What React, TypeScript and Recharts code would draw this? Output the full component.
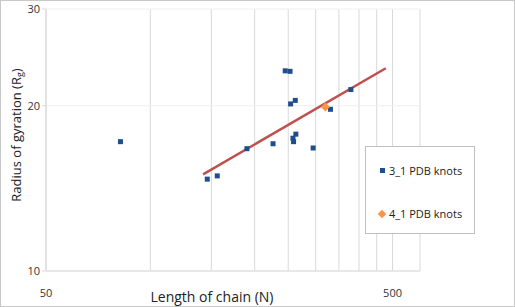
import React from 'react';
import { ScatterChart, Scatter, XAxis, YAxis, CartesianGrid, Label } from 'recharts';

// chain length (N) vs radius of gyration (Rg)
const knots31N = [82, 146, 156, 190, 226, 245, 253, 254, 262, 263, 258, 259, 295, 331, 379];
const knots31Rg = [17.2, 14.7, 14.9, 16.7, 17.05, 23.15, 23.1, 20.15, 20.45, 17.75, 17.45, 17.2, 16.75, 19.7, 21.4];
const knots41N = [320];
const knots41Rg = [19.9];
const trendN = [142, 478];
const trendRg = [15.0, 23.4];

const xTicks = [50, 100, 150, 200, 250, 300, 350, 400, 450, 500, 600];
const xLabels = [50, 500];
const yTicks = [10, 20, 30];

const zip = (xs: number[], ys: number[]) => xs.map((x, i) => ({ n: x, rg: ys[i] }));
const data31 = zip(knots31N, knots31Rg);
const data41 = zip(knots41N, knots41Rg);
const trend = zip(trendN, trendRg);

const FONT = '"Open Sans", "Liberation Sans", sans-serif';

const Square = (props: any) => (
  <rect x={props.cx - 2.5} y={props.cy - 2.5} width={5} height={5} fill="#1F4E8C" />
);

const Diamond = (props: any) => (
  <path
    d={`M${props.cx},${props.cy - 4.5} L${props.cx + 4.5},${props.cy} L${props.cx},${props.cy + 4.5} L${props.cx - 4.5},${props.cy} Z`}
    fill="#F79646"
  />
);

const NoDot = () => <g />;

function LegendBox() {
  return (
    <div
      style={{
        position: 'absolute',
        left: 364,
        top: 145,
        width: 110,
        height: 88,
        border: '1px solid #bfbfbf',
        background: '#fff',
        fontFamily: FONT,
        fontSize: 11,
        color: '#222',
        boxSizing: 'border-box',
      }}
    >
      <div style={{ position: 'absolute', left: 14, top: 16, display: 'flex', alignItems: 'center' }}>
        <span style={{ width: 5, height: 5, background: '#1F4E8C', display: 'inline-block', marginRight: 4 }} />
        3_1 PDB knots
      </div>
      <div style={{ position: 'absolute', left: 13, top: 59, display: 'flex', alignItems: 'center' }}>
        <span
          style={{
            width: 6,
            height: 6,
            background: '#F79646',
            display: 'inline-block',
            transform: 'rotate(45deg)',
            marginRight: 4,
          }}
        />
        4_1 PDB knots
      </div>
    </div>
  );
}

export default function App() {
  return (
    <div
      style={{
        position: 'absolute',
        left: 0,
        top: 0,
        width: 515,
        height: 307,
        boxSizing: 'border-box',
        border: '1px solid #c8c8c8',
        background: '#fff',
      }}
    >
      <ScatterChart width={513} height={305} margin={{ top: 8, right: 94, bottom: 0, left: 0 }}>
        <CartesianGrid stroke="#d9d9d9" horizontal={false} />
        <CartesianGrid stroke="#efefef" vertical={false} />
        <XAxis
          type="number"
          dataKey="n"
          scale="log"
          domain={[50, 600]}
          ticks={xTicks}
          interval={0}
          height={35}
          stroke="#d9d9d9"
          tickLine={false}
          tick={{ fill: '#333', fontSize: 11, fontFamily: FONT }}
          tickFormatter={(v: number) => (xLabels.includes(v) ? String(v) : '')}
          tickMargin={12}
          allowDataOverflow
        >
          <Label
            value="Length of chain (N)"
            position="insideBottom"
            offset={4}
            style={{ fill: '#222', fontSize: 14, fontFamily: FONT }}
            dx={-21}
          />
        </XAxis>
        <YAxis
          type="number"
          dataKey="rg"
          scale="log"
          domain={[10, 30]}
          ticks={yTicks}
          interval={0}
          width={45}
          stroke="#d9d9d9"
          tickSize={4}
          tick={{ fill: '#333', fontSize: 11, fontFamily: FONT }}
          allowDataOverflow
        >
          <Label
            content={() => {
              const cx = 15;
              const cy = 134;
              return (
                <text
                  x={cx}
                  y={cy}
                  transform={`rotate(-90 ${cx} ${cy})`}
                  textAnchor="middle"
                  dominantBaseline="central"
                  style={{ fill: '#222', fontSize: 13, fontFamily: FONT }}
                >
                  Radius of gyration (R
                  <tspan fontSize={9} dy={3}>g</tspan>
                  <tspan dy={-3}>)</tspan>
                </text>
              );
            }}
          />
        </YAxis>
        <Scatter
          name="trend"
          data={trend}
          line={{ stroke: '#C0504D', strokeWidth: 2.5 }}
          shape={NoDot}
          isAnimationActive={false}
          legendType="none"
        />
        <Scatter name="3_1 PDB knots" data={data31} shape={Square} isAnimationActive={false} />
        <Scatter name="4_1 PDB knots" data={data41} shape={Diamond} isAnimationActive={false} />
      </ScatterChart>
      <LegendBox />
    </div>
  );
}
